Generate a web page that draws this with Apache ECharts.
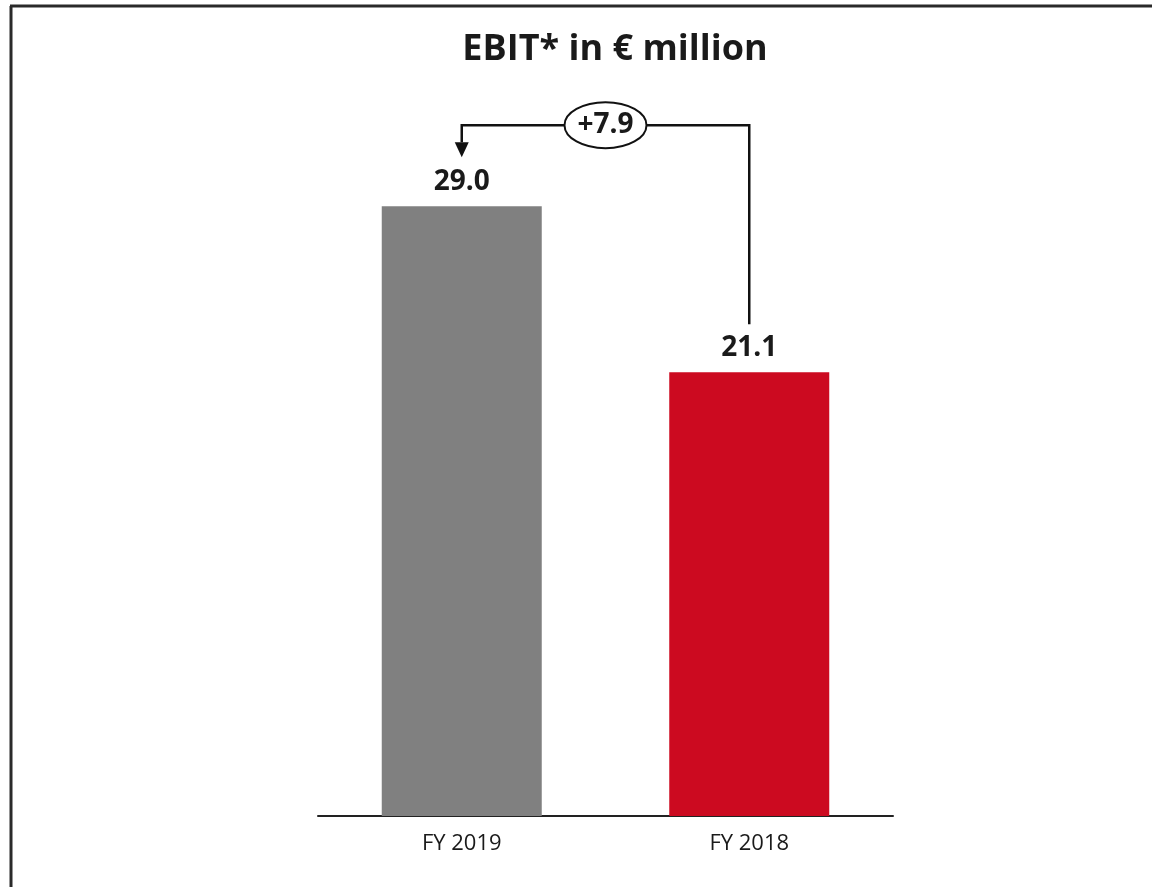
<!DOCTYPE html>
<html>
<head>
<meta charset="utf-8">
<title>EBIT in € million</title>
<script src="https://cdn.jsdelivr.net/npm/echarts@6/dist/echarts.min.js"></script>
<style>
  html, body { margin: 0; padding: 0; background: #ffffff; }
  #chart { width: 1152px; height: 887px; }
</style>
</head>
<body>
<div id="chart"></div>
<script>
// Fiscal years and EBIT values (€ million)
const categories = ['FY 2019', 'FY 2018'];
const ebitValues = [29.0, 21.1];
const barColors = ['#808080', '#cc0a20'];
const deltaLabel = '+7.9';
const titleText = 'EBIT* in € million';

const FONT = '"Open Sans", "Noto Sans", sans-serif';
const INK = '#1a1a1a';

const chart = echarts.init(document.getElementById('chart'), null, { renderer: 'canvas' });

const baseOption = {
  backgroundColor: '#ffffff',
  animation: false,
  title: {
    text: titleText,
    left: 610,
    textAlign: 'center',
    top: 27,
    textStyle: { fontFamily: FONT, fontWeight: 'bold', fontSize: 36, color: INK }
  },
  grid: { left: 318, right: 259, top: 80, bottom: 71 },
  xAxis: {
    type: 'category',
    data: categories,
    axisTick: { show: false },
    axisLine: { show: true, lineStyle: { color: '#222222', width: 2 } },
    axisLabel: { fontFamily: FONT, fontSize: 22, color: INK, margin: 17 }
  },
  yAxis: {
    type: 'value',
    min: 0,
    max: 35,
    show: false,
    splitLine: { show: false }
  },
  series: [{
    type: 'bar',
    barWidth: 160,
    data: ebitValues.map((v, i) => ({ value: v, itemStyle: { color: barColors[i] } })),
    label: {
      show: true,
      position: 'top',
      distance: 10,
      formatter: p => p.value.toFixed(1),
      fontFamily: FONT,
      fontWeight: 'bold',
      fontSize: 28,
      color: INK
    }
  }]
};

chart.setOption(baseOption);

// Bracket linking the two bars, with the change shown in an oval
const pLeft = chart.convertToPixel({ seriesIndex: 0 }, [0, ebitValues[0]]);
const pRight = chart.convertToPixel({ seriesIndex: 0 }, [1, ebitValues[1]]);
const xL = pLeft[0];
const xR = pRight[0];
const yBracket = pLeft[1] - 81;
const yRightEnd = pRight[1] - 48;
const yArrowTip = pLeft[1] - 49;
const headLen = 15;
const headHalf = 7;
const xMid = (xL + xR) / 2;
const stroke = { stroke: '#111111', lineWidth: 2.5 };

chart.setOption({
  graphic: [
    // frame lines
    { type: 'line', shape: { x1: 10, y1: 6, x2: 1152, y2: 6 }, style: { stroke: '#2a2a2a', lineWidth: 3 }, silent: true },
    { type: 'line', shape: { x1: 11, y1: 6, x2: 11, y2: 887 }, style: { stroke: '#2a2a2a', lineWidth: 3 }, silent: true },
    // bracket
    { type: 'polyline', shape: { points: [[xR, yRightEnd], [xR, yBracket], [xL, yBracket], [xL, yArrowTip - headLen]] }, style: Object.assign({ fill: null }, stroke), silent: true },
    { type: 'polygon', shape: { points: [[xL - headHalf, yArrowTip - headLen], [xL + headHalf, yArrowTip - headLen], [xL, yArrowTip]] }, style: { fill: '#111111' }, silent: true },
    // oval with delta
    { type: 'ellipse', shape: { cx: xMid, cy: yBracket, rx: 41, ry: 23 }, style: { fill: '#ffffff', stroke: '#111111', lineWidth: 2 }, z: 10, silent: true },
    { type: 'text', x: xMid, y: yBracket, style: { text: deltaLabel, fontFamily: FONT, fontWeight: 'bold', fontSize: 28, fill: INK, align: 'center', verticalAlign: 'middle' }, z: 11, silent: true }
  ]
});
</script>
</body>
</html>
